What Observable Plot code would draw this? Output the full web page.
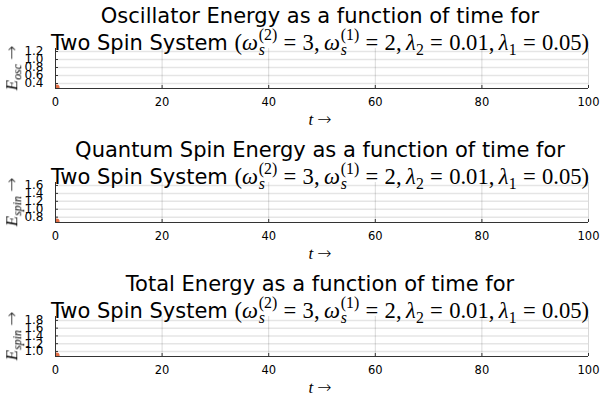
<!DOCTYPE html>
<html><head><meta charset="utf-8">
<script src="https://cdn.jsdelivr.net/npm/d3@7"></script>
<script src="https://cdn.jsdelivr.net/npm/@observablehq/plot@0.6"></script>
<style>
body{margin:0;background:#fff;}
#root{position:relative;width:600px;height:400px;overflow:hidden;font-family:"DejaVu Sans",sans-serif;}
.panel{position:absolute;left:0;width:600px;height:132px;}
.panel svg{position:absolute;left:0;top:0;overflow:visible;}
.ttl{position:absolute;left:320px;transform:translateX(-50%);white-space:nowrap;font-size:21px;line-height:1;color:#000;}
.m{font-family:"Liberation Serif",serif;font-size:22.6px;}
.m i{font-style:italic;}
.eq{margin:0 0.28em;}
.cm{margin-right:0.2em;}
.ss{display:inline-block;vertical-align:-0.32em;font-size:0.7em;line-height:0.95;text-align:left;margin-left:0.05em;}
.ss>span{display:block;}
.sb{font-size:0.7em;vertical-align:-0.3em;}
.ylab{position:absolute;transform:translate(-50%,-50%) rotate(-90deg);will-change:transform;-webkit-font-smoothing:antialiased;white-space:nowrap;font-family:"Liberation Serif",serif;font-size:17px;line-height:1;color:#000;}
.ylab i{font-style:italic;}
.ylab sub{font-size:0.7em;font-style:italic;vertical-align:-0.3em;}
.arr{font-family:"Noto Sans","DejaVu Sans";font-size:17px;color:#000;font-style:normal;font-weight:300;}
.xlab{position:absolute;left:320px;transform:translateX(-50%);white-space:nowrap;font-family:"Liberation Serif",serif;font-size:17px;line-height:1;color:#000;}
</style></head>
<body>
<div id="root"></div>
<script>
// ---- data ----
const xTicks = [0, 20, 40, 60, 80, 100];
const xDomain = [0, 100];

const titles1 = ["Oscillator Energy as a function of time for", "Quantum Spin Energy as a function of time for", "Total Energy as a function of time for"];
const yLabelSubs = ["osc", "spin", "spin"];

const yDomOsc = [0.275, 1.275];
const yTicksOsc = [0.4, 0.6, 0.8, 1.0, 1.2];
const tOsc = [0.2];
const eOsc = [0.30];

const yDomSpin = [0.665, 1.675];
const yTicksSpin = [0.8, 1.0, 1.2, 1.4, 1.6];
const tSpin = [0.2];
const eSpin = [0.69];

const yDomTot = [0.87, 1.9];
const yTicksTot = [1.0, 1.2, 1.4, 1.6, 1.8];
const tTot = [0.2];
const eTot = [0.895];

const lineColor = "#E26F46";

const panels = [
  {dom: yDomOsc, ticks: yTicksOsc, t: tOsc, e: eOsc},
  {dom: yDomSpin, ticks: yTicksSpin, t: tSpin, e: eSpin},
  {dom: yDomTot, ticks: yTicksTot, t: tTot, e: eTot}
];

const title2 = 'Two Spin System <span class="m">(<i>ω</i><span class="ss"><span>(2)</span><span><i>s</i></span></span><span class="eq">=</span>3,<span class="cm"></span><i>ω</i><span class="ss"><span>(1)</span><span><i>s</i></span></span><span class="eq">=</span>2,<span class="cm"></span><i>λ</i><span class="sb">2</span><span class="eq">=</span>0.01,<span class="cm"></span><i>λ</i><span class="sb">1</span><span class="eq">=</span>0.05)</span>';

const root = document.getElementById("root");
panels.forEach((p, i) => {
  const div = document.createElement("div");
  div.className = "panel";
  div.style.top = (i * 134) + "px";
  const data = p.t.map((t, k) => ({t, e: p.e[k]}));
  const fmt = d3.format(".1f");
  const svg = Plot.plot({
    width: 600, height: 132,
    marginLeft: 55, marginRight: 12, marginTop: 48, marginBottom: 44,
    style: {background: "transparent", fontFamily: "DejaVu Sans", fontSize: "11px", color: "#000"},
    x: {domain: xDomain, label: null},
    y: {domain: p.dom, label: null},
    marks: [
      Plot.gridX(xTicks, {stroke: "#000", strokeOpacity: 0.15, strokeWidth: 1}),
      Plot.gridY(p.ticks, {stroke: "#000", strokeOpacity: 0.1, strokeWidth: 1.5}),
      Plot.dot(data, {x: "t", y: "e", r: 3, fill: lineColor, stroke: null, clip: true}),
      Plot.ruleY([p.dom[0]], {stroke: "#333", strokeWidth: 1}),
      Plot.ruleX([xDomain[0]], {stroke: "#333", strokeWidth: 1}),
      Plot.axisX(xTicks, {tickSize: -3, tickPadding: 12, stroke: "#333", fill: "#000", fontSize: 11.5, label: null}),
      Plot.axisY(p.ticks, {tickSize: -3, tickPadding: 15, stroke: "#333", fill: "#000", fontSize: 12, tickFormat: fmt, label: null})
    ]
  });
  div.appendChild(svg);
  const t1 = document.createElement("div");
  t1.className = "ttl"; t1.style.top = "6px"; t1.textContent = titles1[i];
  div.appendChild(t1);
  const t2 = document.createElement("div");
  t2.className = "ttl"; t2.style.top = "27px"; t2.innerHTML = title2;
  div.appendChild(t2);
  const yl = document.createElement("div");
  yl.className = "ylab"; yl.style.left = "13px"; yl.style.top = "68px";
  yl.innerHTML = '<i>E</i><sub>' + yLabelSubs[i] + '</sub> <span class="arr">\u2192</span>';
  div.appendChild(yl);
  const xl = document.createElement("div");
  xl.className = "xlab"; xl.style.top = "110px";
  xl.innerHTML = '<i>t</i> <span class="arr">\u2192</span>';
  div.appendChild(xl);
  root.appendChild(div);
});
</script>
</body></html>
